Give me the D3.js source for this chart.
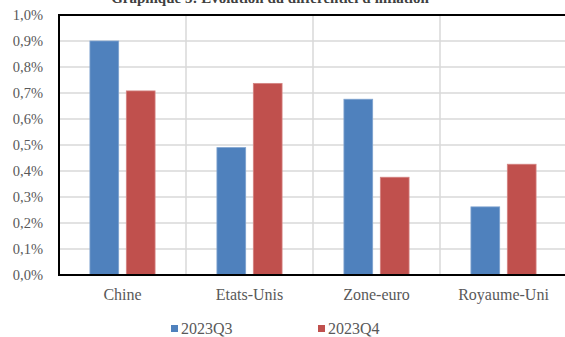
<!DOCTYPE html>
<html>
<head>
<meta charset="utf-8">
<script src="https://cdn.jsdelivr.net/npm/d3@7"></script>
<style>
  body { margin: 0; background: #fff; }
  svg text { font-family: "Liberation Serif", "Times New Roman", serif; }
</style>
</head>
<body>
<div id="chart"></div>
<script>
const categories = ['Chine', 'Etats-Unis', 'Zone-euro', 'Royaume-Uni'];
const seriesNames = ['2023Q3', '2023Q4'];
const q3 = [0.900, 0.490, 0.676, 0.262];
const q4 = [0.708, 0.737, 0.376, 0.426];
const yTicks = [0, 0.1, 0.2, 0.3, 0.4, 0.5, 0.6, 0.7, 0.8, 0.9, 1.0];
const colors = ['#4F81BD', '#C0504D'];
const strokes = ['#7fa3cf', '#d48482'];

const width = 565;
const height = 337;
const margin = { top: 15, left: 59, bottom: 62, right: -2 };

const svg = d3.select('#chart')
  .append('svg')
  .attr('width', width)
  .attr('height', height);

const x = d3.scaleBand()
  .domain(categories)
  .range([margin.left, width - margin.right])
  .paddingInner(0)
  .paddingOuter(0);

const xInner = d3.scaleBand()
  .domain(seriesNames)
  .range([0, x.bandwidth()])
  .paddingInner(0.21)
  .paddingOuter(0.85);

const y = d3.scaleLinear()
  .domain([0, 1.0])
  .range([height - margin.bottom, margin.top]);

// title, mostly cut off at the top (as in the source)
svg.append('text')
  .attr('x', 270)
  .attr('y', 3)
  .attr('text-anchor', 'middle')
  .attr('font-size', 15)
  .attr('font-weight', 'bold')
  .attr('fill', '#404040')
  .text("Graphique 5: Evolution du différentiel d'inflation");

// horizontal grid
svg.append('g')
  .selectAll('line')
  .data(yTicks.slice(1))
  .enter()
  .append('line')
  .attr('x1', margin.left)
  .attr('x2', width)
  .attr('y1', (d) => y(d))
  .attr('y2', (d) => y(d))
  .attr('stroke', '#d9d9d9')
  .attr('stroke-width', 1.5);

// vertical separators
svg.append('g')
  .selectAll('line')
  .data(categories.slice(1))
  .enter()
  .append('line')
  .attr('x1', (d) => x(d))
  .attr('x2', (d) => x(d))
  .attr('y1', y(1))
  .attr('y2', y(0))
  .attr('stroke', '#d9d9d9')
  .attr('stroke-width', 1.5);

// bars
const groups = svg.append('g')
  .selectAll('g')
  .data(categories)
  .enter()
  .append('g')
  .attr('transform', (d) => `translate(${x(d)},0)`);

groups.selectAll('rect')
  .data((d, i) => [q3[i], q4[i]].map((v, k) => ({ key: seriesNames[k], v, k })))
  .enter()
  .append('rect')
  .attr('x', (d) => xInner(d.key))
  .attr('width', xInner.bandwidth())
  .attr('y', (d) => y(d.v))
  .attr('height', (d) => y(0) - y(d.v))
  .attr('fill', (d) => colors[d.k])
  .attr('stroke', (d) => strokes[d.k])
  .attr('stroke-width', 0.8);

// frame
svg.append('line')
  .attr('x1', margin.left).attr('x2', width)
  .attr('y1', y(1)).attr('y2', y(1))
  .attr('stroke', '#000').attr('stroke-width', 2);
svg.append('line')
  .attr('x1', margin.left).attr('x2', width)
  .attr('y1', y(0)).attr('y2', y(0))
  .attr('stroke', '#000').attr('stroke-width', 2);
svg.append('line')
  .attr('x1', margin.left).attr('x2', margin.left)
  .attr('y1', y(1) - 1).attr('y2', y(0) + 1)
  .attr('stroke', '#000').attr('stroke-width', 2);

// y tick labels
const fmt = (d) => d.toFixed(1).replace('.', ',') + '%';
svg.append('g')
  .selectAll('text')
  .data(yTicks)
  .enter()
  .append('text')
  .attr('x', margin.left - 16)
  .attr('y', (d) => y(d))
  .attr('dy', '0.35em')
  .attr('text-anchor', 'end')
  .attr('font-size', 14.5)
  .attr('fill', '#595959')
  .text(fmt);

// category labels
svg.append('g')
  .selectAll('text')
  .data(categories)
  .enter()
  .append('text')
  .attr('x', (d) => x(d) + x.bandwidth() / 2)
  .attr('y', 300)
  .attr('text-anchor', 'middle')
  .attr('font-size', 16)
  .attr('fill', '#595959')
  .text((d) => d);

// legend
const legendX = [171, 318];
const legend = svg.append('g')
  .selectAll('g')
  .data(seriesNames)
  .enter()
  .append('g')
  .attr('transform', (d, i) => `translate(${legendX[i]},325)`);

legend.append('rect')
  .attr('width', 7)
  .attr('height', 7)
  .attr('fill', (d, i) => colors[i]);

legend.append('text')
  .attr('x', 10)
  .attr('y', 9)
  .attr('font-size', 16)
  .attr('fill', '#595959')
  .text((d) => d);
</script>
</body>
</html>
